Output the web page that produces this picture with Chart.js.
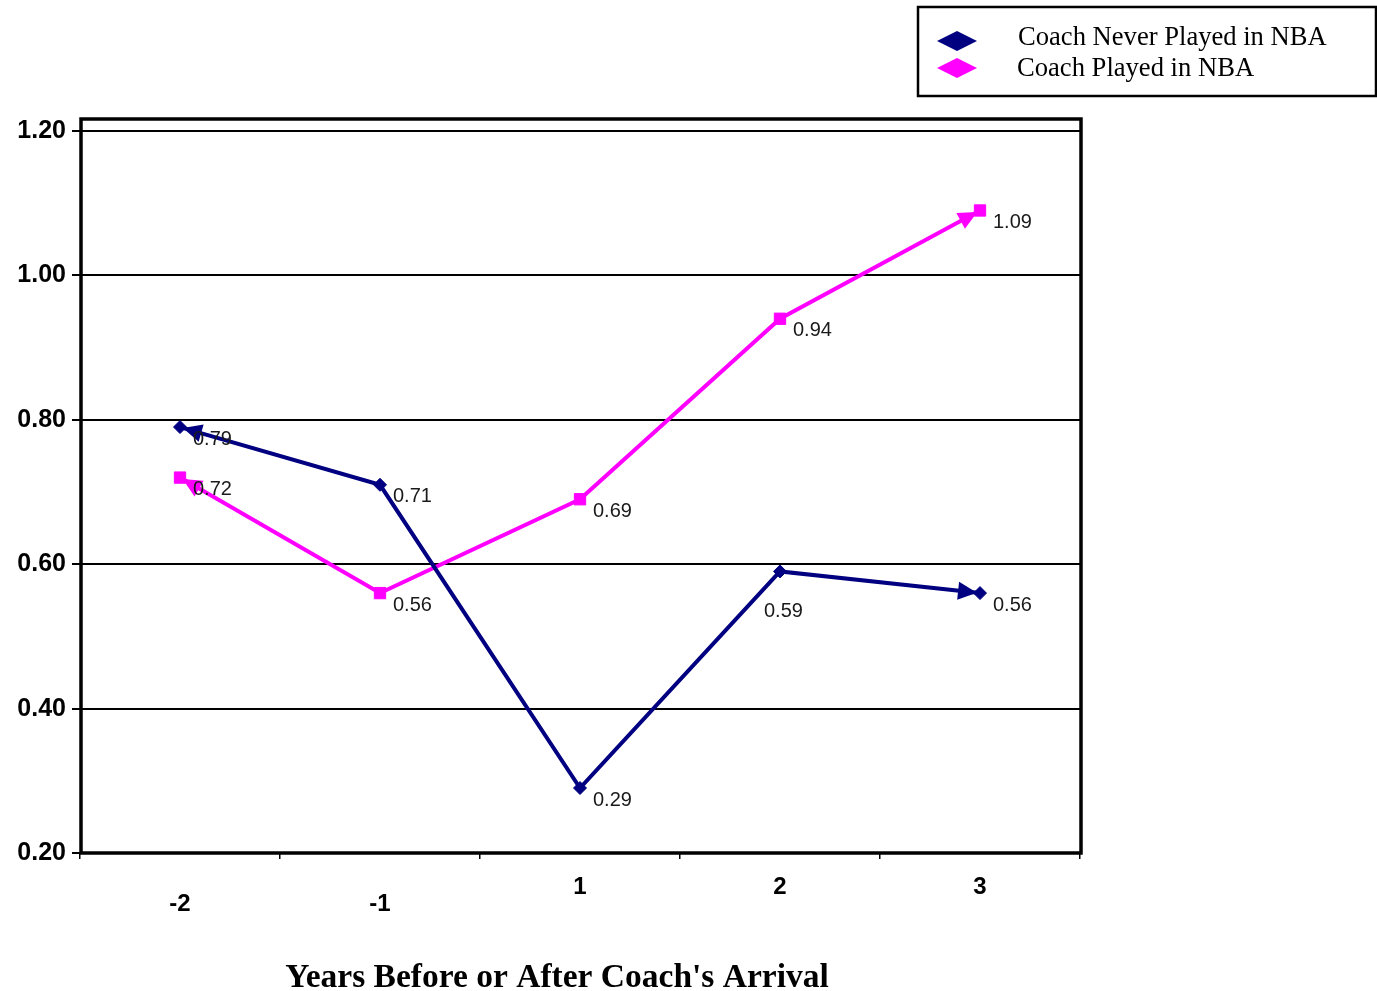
<!DOCTYPE html>
<html><head><meta charset="utf-8">
<script src="https://cdn.jsdelivr.net/npm/chart.js@4.4.0/dist/chart.umd.min.js"></script>
<style>html,body{margin:0;padding:0;background:#fff;overflow:hidden}#wrap{width:1377px;height:991px;position:relative}</style>
</head><body><div id="wrap"><canvas id="c" width="1377" height="991"></canvas></div>
<script>
const categories = ['-2', '-1', '1', '2', '3'];
const neverPlayed = [0.79, 0.71, 0.29, 0.59, 0.56];
const played = [0.72, 0.56, 0.69, 0.94, 1.09];
const yTickValues = [0.2, 0.4, 0.6, 0.8, 1.0, 1.2];
const seriesNames = ['Coach Never Played in NBA', 'Coach Played in NBA'];
const xTitle = "Years Before or After Coach's Arrival";

const NAVY = '#000080', PINK = '#FF00FF';
const labelPlacement = { '0-3': [-16, 40] };

const decorPlugin = {
  id: 'decor',
  afterDatasetsDraw(chart) {
    const ctx = chart.ctx;
    chart.data.datasets.forEach((ds, di) => {
      const pts = chart.getDatasetMeta(di).data;
      const n = pts.length;
      const ends = [[pts[1], pts[0]], [pts[n - 2], pts[n - 1]]];
      ctx.save();
      ctx.fillStyle = ds.borderColor;
      ends.forEach(([a, b]) => {
        const dx = b.x - a.x, dy = b.y - a.y, L = Math.hypot(dx, dy);
        const ux = dx / L, uy = dy / L;
        const tx = b.x - ux * 3, ty = b.y - uy * 3;
        const bx = tx - ux * 19, by = ty - uy * 19;
        const hw = 9;
        ctx.beginPath();
        ctx.moveTo(tx, ty);
        ctx.lineTo(bx - uy * hw, by + ux * hw);
        ctx.lineTo(bx + uy * hw, by - ux * hw);
        ctx.closePath();
        ctx.fill();
      });
      ctx.restore();
    });
    ctx.save();
    ctx.font = '20px "Liberation Sans", Arial, sans-serif';
    ctx.fillStyle = '#1a1a1a';
    ctx.textAlign = 'left';
    ctx.textBaseline = 'middle';
    chart.data.datasets.forEach((ds, di) => {
      chart.getDatasetMeta(di).data.forEach((p, i) => {
        const off = labelPlacement[di + '-' + i] || [13, 12];
        ctx.fillText(ds.data[i].toFixed(2), p.x + off[0], p.y + off[1]);
      });
    });
    ctx.restore();
  },
  afterDraw(chart) {
    const ctx = chart.ctx, a = chart.chartArea;
    ctx.save();
    ctx.strokeStyle = '#000';
    ctx.lineWidth = 3.5;
    ctx.strokeRect(a.left + 1, a.top, a.right - a.left, a.bottom - a.top);
    ctx.font = 'bold 33.5px "Liberation Serif", "Times New Roman", serif';
    ctx.fillStyle = '#000';
    ctx.textAlign = 'center';
    ctx.textBaseline = 'middle';
    ctx.fillText(xTitle, 557, 978);
    ctx.lineWidth = 2.5;
    ctx.strokeRect(918, 7, 458, 89);
    const rows = [41, 68];
    chart.data.datasets.forEach((ds, di) => {
      const cy = rows[di], cx = 957;
      ctx.fillStyle = ds.borderColor;
      ctx.beginPath();
      ctx.moveTo(cx - 20, cy); ctx.lineTo(cx, cy - 10); ctx.lineTo(cx + 20, cy); ctx.lineTo(cx, cy + 10);
      ctx.closePath(); ctx.fill();
      ctx.fillStyle = '#000';
      ctx.font = '26.6px "Liberation Serif", "Times New Roman", serif';
      ctx.textAlign = 'left';
      ctx.fillText(ds.label, di === 0 ? 1018 : 1017, di === 0 ? 38 : 69);
    });
    ctx.restore();
  }
};

new Chart(document.getElementById('c'), {
  type: 'line',
  data: {
    labels: categories,
    datasets: [
      { label: seriesNames[0], data: neverPlayed, borderColor: NAVY, backgroundColor: NAVY,
        borderWidth: 4, pointStyle: 'rectRot', pointRadius: 6.5, pointBorderWidth: 1, tension: 0 },
      { label: seriesNames[1], data: played, borderColor: PINK, backgroundColor: PINK,
        borderWidth: 4, pointStyle: 'rect', pointRadius: 8, pointBorderWidth: 1, tension: 0 }
    ]
  },
  options: {
    responsive: false,
    animation: false,
    devicePixelRatio: 1,
    layout: { padding: { top: 119, left: 0, right: 297, bottom: 0 } },
    plugins: { legend: { display: false }, tooltip: { enabled: false }, title: { display: false } },
    scales: {
      x: {
        type: 'category',
        offset: true,
        grid: { offset: true, drawOnChartArea: false, drawTicks: true, tickLength: 6, color: '#000', lineWidth: 1.5 },
        border: { display: false },
        ticks: {
          color: '#000', padding: 20,
          font: { family: '"Liberation Sans", Arial, sans-serif', size: 24, weight: 'bold', lineHeight: 0.71 },
          maxRotation: 0, autoSkip: false,
          callback: (v, i) => categories[i].startsWith('-') ? ['', categories[i]] : categories[i]
        },
        afterFit: s => { s.height = 138; }
      },
      y: {
        min: 0.2, max: 1.2167,
        afterBuildTicks: s => { s.ticks = yTickValues.map(v => ({ value: v })); },
        grid: { drawOnChartArea: true, drawTicks: true, tickLength: 8, color: '#000', lineWidth: 2 },
        border: { display: false },
        ticks: {
          color: '#000', padding: 6,
          font: { family: '"Liberation Sans", Arial, sans-serif', size: 25, weight: 'bold' },
          callback: v => Number(v).toFixed(2)
        },
        afterFit: s => { s.width = 80; }
      }
    }
  },
  plugins: [decorPlugin]
});
</script>
</body></html>
